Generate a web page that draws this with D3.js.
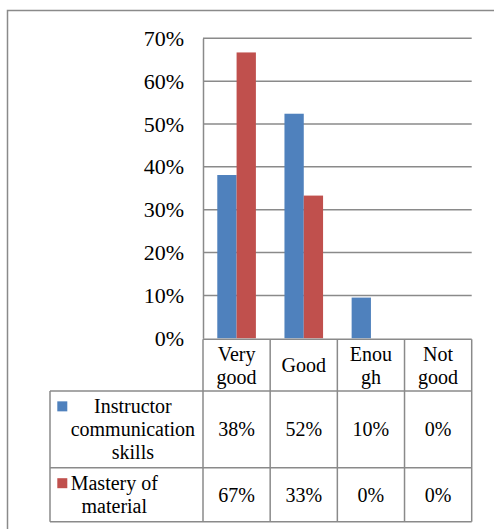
<!DOCTYPE html>
<html>
<head>
<meta charset="utf-8">
<script src="https://cdn.jsdelivr.net/npm/d3@7"></script>
</head>
<body style="margin:0; background:#fff">
<div id="chart"></div>
<script>
// data
var categories = ["Very good", "Good", "Enough", "Not good"];
var catLabels = [["Very", "good"], ["Good"], ["Enou", "gh"], ["Not", "good"]];
var seriesNames = ["Instructor communication skills", "Mastery of material"];
var seriesLines = [["Instructor", "communication", "skills"], ["Mastery of", "material"]];
var instructor = [38.1, 52.4, 9.5, 0];
var mastery = [66.7, 33.3, 0, 0];
var tableLabels = [["38%", "52%", "10%", "0%"], ["67%", "33%", "0%", "0%"]];
var yTicks = [0, 10, 20, 30, 40, 50, 60, 70];
var colors = ["#4F81BD", "#C0504D"];

var width = 494, height = 529;
var gridColor = "#8a8a8a";
var font = "Liberation Serif";

var svg = d3.select("#chart").append("svg")
  .attr("width", width).attr("height", height);

// outer chart border (only top and left visible)
svg.append("rect")
  .attr("x", 7.5).attr("y", 10.5)
  .attr("width", 520).attr("height", 560)
  .attr("fill", "none").attr("stroke", gridColor).attr("stroke-width", 1.5);

var plotLeft = 203, plotRight = 471.7, plotTop = 38.3, plotBottom = 338.3;

var x = d3.scaleBand().domain(categories).range([plotLeft, plotRight]);
var xs = d3.scaleBand().domain([0, 1]).range([0, x.bandwidth()])
  .paddingOuter(0.74).paddingInner(0);
var y = d3.scaleLinear().domain([0, 70]).range([plotBottom, plotTop]);

// gridlines
svg.append("g").selectAll("line")
  .data(yTicks.slice(1))
  .enter().append("line")
    .attr("x1", plotLeft).attr("x2", plotRight)
    .attr("y1", function(d){ return y(d) }).attr("y2", function(d){ return y(d) })
    .attr("stroke", gridColor).attr("stroke-width", 1.5);

// y axis
var yAxis = svg.append("g")
  .attr("transform", "translate(" + plotLeft + ",0)")
  .call(d3.axisLeft(y).tickValues(yTicks).tickSize(0).tickPadding(19)
    .tickFormat(function(d){ return d + "%" }));
yAxis.attr("font-family", null).attr("font-size", null);
yAxis.select(".domain").attr("stroke", gridColor).attr("stroke-width", 1.5);
yAxis.selectAll("text")
  .style("font-family", font).style("font-size", "22px").attr("fill", "#000");

// bars
var allSeries = [instructor, mastery];
allSeries.forEach(function(vals, si) {
  svg.append("g").selectAll("rect")
    .data(vals)
    .enter().append("rect")
      .attr("x", function(d, i){ return x(categories[i]) + xs(si) })
      .attr("width", xs.bandwidth())
      .attr("y", function(d){ return y(d) })
      .attr("height", function(d){ return plotBottom - y(d) })
      .attr("fill", colors[si]);
});

// data table
var headTop = 339.3, headBottom = 391, row1Bottom = 467.7, row2Bottom = 521.7;
var tableLeft = 50;
var rowBounds = [[headBottom, row1Bottom], [row1Bottom, row2Bottom]];
var lineH = 23;

var tbl = svg.append("g");
function hline(x1, x2, yy) {
  tbl.append("line").attr("x1", x1).attr("x2", x2).attr("y1", yy).attr("y2", yy)
    .attr("stroke", gridColor).attr("stroke-width", 1.5);
}
function vline(xx, y1, y2) {
  tbl.append("line").attr("x1", xx).attr("x2", xx).attr("y1", y1).attr("y2", y2)
    .attr("stroke", gridColor).attr("stroke-width", 1.5);
}
hline(plotLeft, plotRight, headTop);
hline(tableLeft, plotRight, headBottom);
hline(tableLeft, plotRight, row1Bottom);
hline(tableLeft, plotRight, row2Bottom);
vline(tableLeft, headBottom, row2Bottom);
categories.forEach(function(c) { vline(x(c), headTop, row2Bottom); });
vline(plotRight, headTop, row2Bottom);

function multiLine(g, lines, cx, cy) {
  var t = g.append("text").attr("text-anchor", "middle")
    .style("font-family", font).style("font-size", "20px").attr("fill", "#000");
  lines.forEach(function(l, i) {
    t.append("tspan").attr("x", cx)
      .attr("y", cy + (i - (lines.length - 1) / 2) * lineH)
      .attr("dy", "0.35em").text(l);
  });
  return t;
}

// header labels
categories.forEach(function(c, i) {
  multiLine(tbl, catLabels[i], x(c) + x.bandwidth() / 2, (headTop + headBottom) / 2);
});

// rows
seriesLines.forEach(function(lines, si) {
  var cy = (rowBounds[si][0] + rowBounds[si][1]) / 2;
  var firstY = cy - (lines.length - 1) / 2 * lineH;
  tbl.append("rect")
    .attr("x", 57.3).attr("y", firstY - 5)
    .attr("width", 10).attr("height", 10)
    .attr("fill", colors[si]);
  // measure widest line, then centre lines inside that block
  var probe = tbl.append("text").style("font-family", font).style("font-size", "20px");
  var maxW = d3.max(lines, function(l){ probe.text(l); return probe.node().getComputedTextLength(); });
  probe.remove();
  multiLine(tbl, lines, 70.7 + maxW / 2, cy);
  tableLabels[si].forEach(function(lab, i) {
    multiLine(tbl, [lab], x(categories[i]) + x.bandwidth() / 2, cy);
  });
});
</script>
</body>
</html>
